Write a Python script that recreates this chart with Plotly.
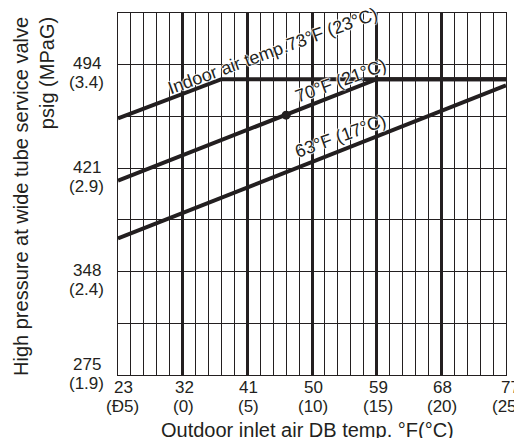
import plotly.graph_objects as go

# ---- data ----
outdoor_73 = [23, 37.4, 77]
hp_73 = [3.14, 3.33, 3.33]
outdoor_70 = [23, 59, 77]
hp_70 = [2.84, 3.33, 3.33]
outdoor_63 = [23, 77]
hp_63 = [2.56, 3.30]
point_x = [46.4]
point_y = [3.156]

x_tick_vals = [23, 32, 41, 50, 59, 68, 77]
x_tick_f = ["23", "32", "41", "50", "59", "68", "77"]
x_tick_c = ["(Đ5)", "(0)", "(5)", "(10)", "(15)", "(20)", "(25)"]
y_label_vals = [1.9, 2.4, 2.9, 3.4]
y_label_psig = ["275", "348", "421", "494"]
y_label_mpa = ["(1.9)", "(2.4)", "(2.9)", "(3.4)"]

line_labels = ["Indoor air temp.73°F (23°C)", "70°F (21°C)", "63°F (17°C)"]
label_x = [44.5, 53.9, 54.0]
label_y = [3.467, 3.323, 3.053]

INK = "#231f20"
FONT = "Liberation Sans, Arial, sans-serif"

fig = go.Figure()
for xs, ys in [(outdoor_73, hp_73), (outdoor_70, hp_70), (outdoor_63, hp_63)]:
    fig.add_trace(go.Scatter(x=xs, y=ys, mode="lines",
                             line=dict(color=INK, width=4), showlegend=False, hoverinfo="skip"))
fig.add_trace(go.Scatter(x=point_x, y=point_y, mode="markers",
                         marker=dict(color=INK, size=9), showlegend=False, hoverinfo="skip"))

halo = "1px 0px 1px white, -1px 0px 1px white, 0px 1px 1px white, 0px -1px 1px white"
for t, lx, ly in zip(line_labels, label_x, label_y):
    fig.add_annotation(x=lx, y=ly, xref="x", yref="y", text=t, showarrow=False,
                       textangle=-20, font=dict(size=18, color=INK, family=FONT, shadow=halo))

# y-axis labels (psig over MPa)
for v, p, m in zip(y_label_vals, y_label_psig, y_label_mpa):
    base = 10 if v == 1.9 else 0
    fig.add_annotation(x=-0.08, y=v, xref="paper", yref="y", text=p, showarrow=False,
                       xanchor="center", yanchor="middle", yshift=base + 1,
                       font=dict(size=17, color=INK, family=FONT))
    fig.add_annotation(x=-0.08, y=v, xref="paper", yref="y", text=m, showarrow=False,
                       xanchor="center", yanchor="middle", yshift=base - 18,
                       font=dict(size=17, color=INK, family=FONT))

# x-axis labels (°F over °C)
for v, f, c in zip(x_tick_vals, x_tick_f, x_tick_c):
    xs_f = 5 if v == 23 else (4 if v == 77 else 1.5)
    xs_c = 4 if v == 23 else (1 if v == 77 else 1)
    fig.add_annotation(x=v, y=0, xref="x", yref="paper", text=f, showarrow=False,
                       xanchor="center", yanchor="middle", yshift=-12.5, xshift=xs_f,
                       font=dict(size=17, color=INK, family=FONT))
    fig.add_annotation(x=v, y=0, xref="x", yref="paper", text=c, showarrow=False,
                       xanchor="center", yanchor="middle", yshift=-31.5, xshift=xs_c,
                       font=dict(size=17, color=INK, family=FONT))

fig.add_annotation(x=0.488, y=0, xref="paper", yref="paper", yshift=-55,
                   text="Outdoor inlet air DB temp. °F(°C)", showarrow=False,
                   xanchor="center", yanchor="middle",
                   font=dict(size=20, color=INK, family=FONT))
fig.add_annotation(x=-0.218, y=0.493, xref="paper", yref="paper", xshift=0,
                   text="High pressure at wide tube service valve<br>psig (MPaG)",
                   showarrow=False, textangle=-90, align="right",
                   xanchor="center", yanchor="middle",
                   font=dict(size=20, color=INK, family=FONT))

fig.update_layout(
    width=514, height=430,
    margin=dict(l=110, r=16, t=5, b=63),
    paper_bgcolor="white", plot_bgcolor="white",
    font=dict(family=FONT, color=INK, size=17),
    xaxis=dict(range=[23, 77], tickmode="array", tickvals=x_tick_vals, showticklabels=False,
               showgrid=True, gridcolor=INK, gridwidth=3, zeroline=False,
               showline=True, mirror=True, linecolor=INK, linewidth=1.3, ticks="",
               minor=dict(tick0=23, dtick=1.8, showgrid=True, gridcolor=INK, gridwidth=1.3)),
    yaxis=dict(range=[1.9, 3.65], tickmode="linear", tick0=1.9, dtick=0.25,
               showticklabels=False, showgrid=True, gridcolor=INK, gridwidth=1.3,
               zeroline=False, showline=True, mirror=True, linecolor=INK, linewidth=1.3, ticks=""),
)

fig.write_html("out.html")
